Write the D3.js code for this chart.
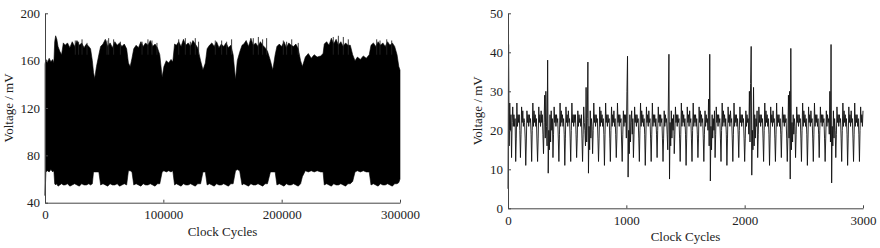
<!DOCTYPE html>
<html><head><meta charset="utf-8">
<script src="https://cdn.jsdelivr.net/npm/d3@7/dist/d3.min.js"></script>
<style>
html,body{margin:0;padding:0;background:#fff;}
svg{display:block;}
text{font-family:"Liberation Serif","Times New Roman",serif;}
</style></head>
<body>
<svg id="chart" width="880" height="248"></svg>
<script>
// ---------- Left panel data (envelope of dense signal) ----------
const leftX = [0,800,2000,3500,5000,6500,7500,8200,9000,10000,11000,12500,14000,15500,17000,19000,21000,23000,25000,27000,29000,31000,33000,35000,37000,38500,40000,41000,42000,43500,45500,47000,49000,51000,53000,55000,57000,59000,61000,63000,65000,67000,69000,70500,72000,73500,75000,77000,79000,81000,83000,85000,87000,89000,91000,93000,95000,97000,99000,100500,102500,104500,106500,108000,109500,111000,113000,115000,117000,119000,121000,123000,125000,127000,129000,131500,133500,135500,137000,139000,141000,143000,145000,147000,149000,151000,153000,155000,157000,159000,161000,162500,164500,166500,168000,170000,172000,174000,176000,178000,180000,182000,184000,186000,188000,190500,192500,194500,196000,198000,200000,202000,204000,206000,208000,210000,212000,214000,216000,217500,220000,222500,225000,227500,230000,233000,235000,236000,238000,240000,242000,244000,246000,248000,250000,252000,254000,256000,258000,260000,262000,264000,266500,269000,271500,274000,275500,277500,279500,281500,283500,285500,287500,289500,291500,293500,295500,297500,299000,300000];
const leftHi = [157,161,158,162,159,161,158,176,181,178,172,168,165,175,173,175,171,176,172,177,173,175,171,174,172,170,160,150,145,155,165,172,174,178,172,175,171,176,173,175,172,174,170,158,155,162,170,173,171,176,172,175,173,177,172,174,171,165,146,155,160,158,161,159,174,173,176,172,178,173,175,172,177,174,171,160,152,158,170,173,175,172,176,171,174,172,175,171,173,165,144,160,167,173,174,177,172,179,173,175,172,176,173,171,168,160,152,165,172,174,172,176,171,175,173,172,174,170,160,155,163,166,162,165,163,164,166,174,176,173,179,174,178,173,176,172,175,173,173,165,160,163,161,164,162,165,173,175,172,176,173,175,172,176,173,175,172,165,155,152];
const leftLo = [46,66,67,66,68,66,67,56,55,56,54,55,56,55,55,56,54,55,56,55,54,56,55,55,56,55,56,66,66,66,66,55,56,55,54,56,55,55,56,54,55,56,55,67,67,66,55,56,55,54,56,55,55,56,55,54,56,56,66,67,66,67,66,67,55,56,55,54,56,55,55,56,55,54,56,56,66,66,55,56,55,54,56,55,55,56,55,54,56,56,67,68,67,55,56,55,54,56,55,55,56,55,54,56,56,66,66,66,55,56,55,54,56,55,55,56,55,54,56,62,67,66,67,66,67,66,66,55,56,55,54,56,55,55,56,55,54,56,56,58,66,67,66,67,66,66,55,56,55,54,56,55,55,56,55,54,56,56,57,60];
// thin upward spikes on top of the dense band
const leftSpikeX = [25600,28400,31300,35500,52400,53800,58000,63700,82000,87000,90400,94600,113000,118600,122800,127000,129800,143900,149300,153500,157700,176000,180300,183900,187300,201400,204200,208500,214000,243600,247900,252100,256300,280300,283100,288800,293000];
const leftSpikeTop = [177,176,178,175,177,179,178,176,176,178,177,175,178,179,176,179,176,177,177,176,178,179,180,178,179,177,176,178,175,180,181,180,178,178,177,178,177];
const leftXTicks = [0,100000,200000,300000];
const leftYTicks = [40,80,120,160,200];

// ---------- Right panel data (sampled every 5 clock cycles) ----------
const rightStep = 5;
const rightVals = [
5,42,16,27,20,24,13,22,26,21,
24,21,23,12,18,27,21,24,22,24,
20,13,19,26,22,25,21,23,22,18,
11,17,25,22,24,21,24,22,23,19,
12,20,27,21,25,22,24,21,23,17,
12,18,26,22,24,21,25,22,24,19,
14,22,29,18,30,21,16,38,9,20,
15,24,17,25,20,23,13,19,26,22,
24,21,24,22,23,18,12,19,27,21,
25,22,24,21,23,19,11,18,26,22,
24,21,25,22,23,18,12,20,27,22,
24,21,24,22,24,19,13,18,25,21,
24,22,23,21,24,18,12,19,26,22,
20,16,31,17,23,37.5,9,21,15,25,
18,23,21,14,20,27,22,24,21,24,
22,23,18,12,18,26,21,25,22,24,
21,23,19,11,19,27,22,24,21,24,
22,23,18,12,20,26,21,24,22,25,
21,23,19,13,18,27,22,24,21,24,
22,23,17,12,19,25,21,24,22,24,
18,30,39,8,20,14,24,17,22,25,
19,23,13,19,26,22,24,21,24,22,
23,18,12,20,27,21,25,22,24,21,
23,19,11,18,26,22,24,21,25,22,
23,18,12,19,27,21,24,22,24,21,
23,19,13,20,26,22,24,21,24,22,
23,18,12,18,25,21,24,22,23,19,
15,27,39.5,7.5,22,16,25,18,23,20,
24,14,19,26,22,24,21,24,22,23,
18,12,19,27,21,25,22,24,21,23,
19,11,18,26,22,24,21,25,22,23,
18,12,20,27,21,24,22,24,21,23,
19,13,18,26,22,25,21,24,22,23,
18,12,19,25,21,24,22,23,20,28,
16,39.5,7,21,15,24,18,23,20,25,
13,19,26,22,24,21,24,22,23,18,
12,20,27,21,25,22,24,21,23,19,
11,18,26,22,24,21,25,22,23,18,
12,19,27,21,24,22,24,21,23,19,
13,20,26,22,24,21,24,22,23,18,
12,18,25,21,24,22,23,19,30,17,
32,41.5,8.5,20,15,31,16,24,18,23,
21,25,13,19,26,22,24,21,24,22,
23,18,12,20,27,21,25,22,24,21,
23,19,11,18,26,22,24,21,25,22,
23,18,12,19,27,21,24,22,24,21,
23,19,13,20,26,22,24,21,24,22,
23,18,12,18,29,18,30,7.5,41,15,
22,17,24,19,23,21,13,19,26,22,
24,21,24,22,23,18,12,20,27,21,
25,22,24,21,23,19,11,18,26,22,
24,21,25,22,23,18,12,19,27,21,
24,22,24,21,23,19,13,20,26,22,
24,21,24,22,23,18,12,18,25,21,
24,22,23,19,30,17,42,6.5,21,16,
25,18,23,20,13,19,26,22,24,21,
24,22,23,18,12,20,27,21,25,22,
24,21,23,19,11,18,26,22,24,21,
25,22,23,18,12,19,27,21,24,22,
24,21,23,19,12,20,26,22,24,21,
25];
const rightXTicks = [0,1000,2000,3000];
const rightYTicks = [0,10,20,30,40,50];

const xLabel = "Clock Cycles";
const yLabel = "Voltage / mV";

// ---------- Drawing ----------
const svg = d3.select("#chart");
svg.append("rect").attr("width",880).attr("height",248).attr("fill","#fff");

function styleAxis(g){
  g.select(".domain").attr("stroke","#444").attr("stroke-width",1);
  g.selectAll(".tick line").attr("stroke","#444");
  g.selectAll(".tick text").attr("fill","#222")
    .style("font-family","'Liberation Serif','Times New Roman',serif").style("font-size","13px");
}

function panel(cfg){
  const x = d3.scaleLinear().domain(cfg.xDom).range([cfg.x0,cfg.x1]);
  const y = d3.scaleLinear().domain(cfg.yDom).range([cfg.yB,cfg.yT]);
  const g = svg.append("g");
  cfg.draw(g,x,y);
  const ax = g.append("g").attr("transform",`translate(0,${cfg.yB})`)
    .call(d3.axisBottom(x).tickValues(cfg.xTicks).tickFormat(d3.format("d"))
      .tickSizeInner(-3).tickSizeOuter(0).tickPadding(7));
  ax.attr("font-family",null).attr("font-size",null);
  styleAxis(ax);
  const ay = g.append("g").attr("transform",`translate(${cfg.x0},0)`)
    .call(d3.axisLeft(y).tickValues(cfg.yTicks).tickFormat(d3.format("d"))
      .tickSizeInner(-3).tickSizeOuter(0).tickPadding(5));
  ay.attr("font-family",null).attr("font-size",null);
  styleAxis(ay);
  g.append("text").attr("x",(cfg.x0+cfg.x1)/2).attr("y",cfg.yB+33)
    .attr("text-anchor","middle").attr("font-size","13px").attr("fill","#222").text(xLabel);
  g.append("text").attr("transform",`translate(${cfg.yLabX},${(cfg.yB+cfg.yT)/2}) rotate(-90)`)
    .attr("text-anchor","middle").attr("dy","0.35em").attr("font-size","13px").attr("fill","#222").text(yLabel);
}

panel({
  xDom:[0,300000], yDom:[40,200], x0:45, x1:400, yB:202.7, yT:13.3,
  xTicks:leftXTicks, yTicks:leftYTicks, yLabX:8,
  draw:(g,x,y)=>{
    const idx = d3.range(leftX.length);
    const area = d3.area().x(i=>x(leftX[i])).y0(i=>y(leftLo[i])).y1(i=>y(leftHi[i]));
    g.append("path").datum(idx).attr("d",area).attr("fill","#000")
      .attr("stroke","#000").attr("stroke-width",0.6);
    g.selectAll("line.spike").data(d3.range(leftSpikeX.length)).join("line")
      .attr("class","spike")
      .attr("x1",i=>x(leftSpikeX[i])).attr("x2",i=>x(leftSpikeX[i]))
      .attr("y1",y(165)).attr("y2",i=>y(leftSpikeTop[i]))
      .attr("stroke","#222").attr("stroke-width",0.9);
  }
});

panel({
  xDom:[0,3000], yDom:[0,50], x0:508, x1:863, yB:208.3, yT:13.3,
  xTicks:rightXTicks, yTicks:rightYTicks, yLabX:477,
  draw:(g,x,y)=>{
    const line = d3.line().x((d,i)=>x(i*rightStep)).y(d=>y(d));
    g.append("path").datum(rightVals).attr("d",line).attr("fill","none")
      .attr("stroke","#111").attr("stroke-width",0.9).attr("stroke-linejoin","round");
  }
});
</script>
</body></html>
